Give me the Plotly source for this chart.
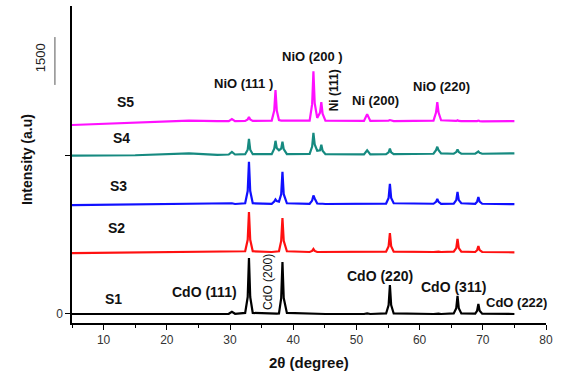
import plotly.graph_objects as go

# ---- data ----
two_theta = [5, 15, 23.5, 28,
             29.8, 30.3, 30.8,
             32.4, 32.8, 33.0, 33.2, 33.6,
             36.6, 37.0, 37.2, 37.4, 37.75, 38.1, 38.3, 38.5, 39.0,
             42.6, 43.0, 43.2, 43.4, 43.8, 44.25, 44.45, 44.65, 45.1,
             51.2, 51.7, 52.2,
             54.7, 55.1, 55.3, 55.5, 55.9,
             62.2, 62.6, 62.8, 63.0, 63.4,
             65.4, 65.8, 66.0, 66.2, 66.6,
             68.8, 69.1, 69.3, 69.5, 69.9,
             75]

s1 = [0, 0, 5, 0,
      2, 20, 2,
      10, 160, 528, 160, 10,
      0, 3, 5, 3, 5, 150, 490, 150, 10,
      0, 3, 5, 3, 0, 0, 0, 0, 0,
      0, 5, 0,
      5, 85, 273, 85, 5,
      0, 3, 5, 3, 0,
      5, 55, 170, 55, 5,
      3, 30, 94, 30, 3,
      0]

s2 = [575, 580, 588, 585,
      585, 590, 585,
      592, 700, 962, 700, 592,
      585, 588, 590, 588, 592, 690, 905, 690, 592,
      585, 595, 613, 595, 585, 585, 585, 585, 585,
      585, 588, 585,
      588, 640, 764, 640, 588,
      585, 588, 590, 588, 585,
      588, 622, 708, 622, 588,
      585, 602, 640, 602, 585,
      582]

s3 = [1028, 1032, 1038, 1038,
      1038, 1045, 1038,
      1045, 1160, 1436, 1160, 1045,
      1040, 1060, 1080, 1065, 1060, 1130, 1342, 1130, 1045,
      1040, 1070, 1118, 1090, 1042, 1040, 1042, 1040, 1038,
      1038, 1042, 1038,
      1042, 1095, 1227, 1095, 1045,
      1040, 1058, 1085, 1058, 1040,
      1042, 1075, 1151, 1075, 1045,
      1040, 1060, 1104, 1060, 1040,
      1036]

s4 = [1494, 1498, 1515, 1502,
      1505, 1530, 1505,
      1508, 1550, 1653, 1550, 1508,
      1508, 1560, 1634, 1565, 1545, 1560, 1625, 1555, 1508,
      1510, 1580, 1709, 1600, 1540, 1545, 1596, 1540, 1508,
      1506, 1545, 1506,
      1508, 1525, 1560, 1525, 1508,
      1512, 1545, 1578, 1545, 1515,
      1512, 1528, 1552, 1528, 1512,
      1512, 1520, 1533, 1520, 1512,
      1516]

s5 = [1783, 1805, 1825, 1820,
      1820, 1840, 1820,
      1822, 1835, 1860, 1835, 1822,
      1825, 1920, 2112, 1920, 1830, 1824, 1824, 1822, 1820,
      1825, 1980, 2291, 1990, 1850, 1900, 1999, 1890, 1825,
      1822, 1886, 1822,
      1820, 1825, 1830, 1825, 1820,
      1825, 1900, 1999, 1900, 1828,
      1820, 1822, 1828, 1822, 1820,
      1818, 1820, 1825, 1820, 1818,
      1820]

series_names = ["S1", "S2", "S3", "S4", "S5"]
series_values = [s1, s2, s3, s4, s5]
series_colors = ["#000000", "#ff1010", "#1010ff", "#168a80", "#ff10ff"]

# sample labels (x, y in data units)
label_x = [11.6, 12.1, 12.4, 12.9, 13.4]
label_y = [142, 811, 1208, 1660, 2000]

# peak labels: text, x, y, angle, bold, size
peak_text = ["NiO (111 )", "NiO (200 )", "Ni (111)", "Ni (200)", "NiO (220)",
             "CdO (111)", "CdO (200)", "CdO (220)", "CdO (311)", "CdO (222)"]
peak_x = [32.1, 43.1, 46.5, 53.1, 63.5, 26.0, 36.0, 53.7, 65.3, 75.4]
peak_y = [2179, 2425, 2113, 2019, 2151, 208, 302, 358, 255, 104]
peak_angle = [0, 0, -90, 0, 0, 0, -90, 0, 0, 0]
peak_bold = [True, True, True, True, True, True, False, True, True, True]
peak_size = [13, 13, 12, 13, 13, 14, 12, 14, 14, 13]

x_ticks = [10, 20, 30, 40, 50, 60, 70, 80]
y_tickvals = [0, 1500]
y_ticktext = ["0", ""]

FONT = "Liberation Sans, Arial, sans-serif"

fig = go.Figure()
for name, vals, col in zip(series_names, series_values, series_colors):
    fig.add_trace(go.Scatter(x=two_theta, y=vals, mode="lines", name=name,
                             line=dict(color=col, width=2.2), showlegend=False))

annotations = []
for name, lx, ly in zip(series_names, label_x, label_y):
    annotations.append(dict(x=lx, y=ly, xref="x", yref="y", text="<b>%s</b>" % name,
                            showarrow=False, font=dict(family=FONT, size=14, color="#111")))
for t, px, py, ang, b, sz in zip(peak_text, peak_x, peak_y, peak_angle, peak_bold, peak_size):
    annotations.append(dict(x=px, y=py, xref="x", yref="y",
                            text=("<b>%s</b>" % t) if b else t, textangle=ang,
                            showarrow=False, font=dict(family=FONT, size=sz, color="#111")))
# stray "1500" label of the original
annotations.append(dict(x=-0.065, y=0.836, xref="paper", yref="paper", text="1500",
                        textangle=-90, showarrow=False, xanchor="center", yanchor="middle",
                        font=dict(family=FONT, size=13, color="#222")))
# axis titles
annotations.append(dict(x=0.5, y=-0.126, xref="paper", yref="paper",
                        text="<b>2θ (degree)</b>", showarrow=False,
                        xanchor="center", yanchor="middle",
                        font=dict(family=FONT, size=15, color="#111")))
annotations.append(dict(x=-0.095, y=0.517, xref="paper", yref="paper",
                        text="<b>Intensity (a.u)</b>", textangle=-90, showarrow=False,
                        xanchor="center", yanchor="middle",
                        font=dict(family=FONT, size=14, color="#111")))

fig.update_layout(
    width=574, height=371,
    margin=dict(l=72, r=28, t=6, b=48),
    paper_bgcolor="white", plot_bgcolor="white",
    annotations=annotations,
    shapes=[dict(type="line", xref="paper", yref="paper", x0=-0.036, x1=-0.036,
                 y0=0.751, y1=0.902, line=dict(color="#555", width=1))],
    font=dict(family=FONT, color="#333"),
)
fig.update_xaxes(range=[5, 80], tickvals=x_ticks, ticks="outside", ticklen=5,
                 tickwidth=1, tickcolor="#000", showline=True, linecolor="#000",
                 linewidth=1.5, showgrid=False, zeroline=False, automargin=False,
                 minor=dict(dtick=5, tick0=0, ticks="outside", ticklen=3, tickcolor="#000"),
                 tickfont=dict(family=FONT, size=12, color="#333"))
fig.update_yaxes(range=[-85, 2906], tickvals=y_tickvals, ticktext=y_ticktext,
                 ticks="outside", ticklen=5, tickcolor="#000", showline=True,
                 linecolor="#000", linewidth=1.5, showgrid=False, zeroline=False,
                 automargin=False,
                 tickfont=dict(family=FONT, size=12, color="#333"))

fig.write_html("out.html", config={"displayModeBar": False},
               post_script="document.body.style.margin='0';document.body.style.overflow='hidden';")
